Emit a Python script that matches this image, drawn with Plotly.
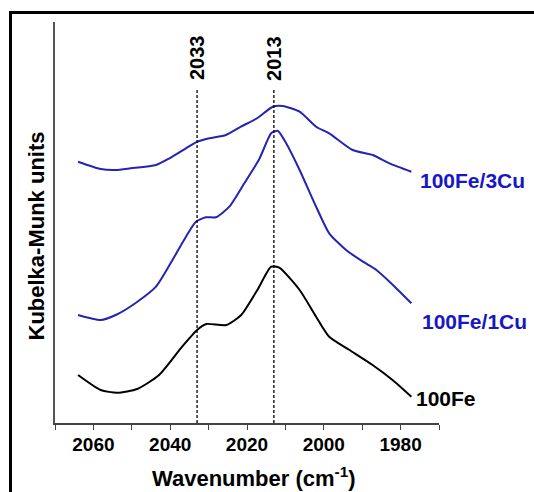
import plotly.graph_objects as go

# ---- data ----
wn_fe = [2064.0, 2058.1, 2053.8, 2048.6, 2042.9, 2036.9, 2033.0, 2030.6, 2025.4, 2021.5,
         2017.3, 2013.7, 2011.6, 2006.3, 2002.0, 1998.6, 1993.3, 1987.3, 1982.1, 1977.2]
km_fe = [48, 33, 30.3, 34, 48, 76.3, 93, 99, 98, 108,
         133, 156.3, 155.3, 133, 106.3, 86.3, 73, 58, 43, 26.3]

wn_1cu = [2064.0, 2058.1, 2054.2, 2048.9, 2043.7, 2039.4, 2035.9, 2033.3, 2030.7, 2028.1,
          2024.6, 2020.7, 2016.8, 2013.7, 2012.0, 2009.8, 2006.3, 2002.0, 1998.6, 1994.2,
          1989.8, 1986.3, 1982.0, 1977.2]
km_1cu = [108, 103, 108, 120.3, 136.3, 163, 186.3, 201.3, 205.7, 205.7,
          216.3, 239.7, 264, 289.7, 292.3, 279.7, 253, 216.3, 189.7, 173,
          161.3, 153, 138, 119.7]

wn_3cu = [2064.0, 2058.1, 2054.2, 2050.3, 2043.7, 2040.2, 2035.9, 2032.9, 2029.8, 2025.5,
          2021.6, 2017.3, 2013.3, 2010.7, 2006.3, 2002.0, 1998.6, 1992.5, 1987.3, 1982.9,
          1977.2]
km_3cu = [261.3, 254, 253, 254.7, 258, 264.7, 274.7, 281.3, 284.7, 288,
          296.3, 305, 316.3, 317, 311.3, 296.3, 289.7, 273, 268, 259.7,
          251.3]

series_names = ["100Fe", "100Fe/1Cu", "100Fe/3Cu"]
marker_lines = [2033, 2013]
tick_vals = [2060, 2040, 2020, 2000, 1980]
tick_text = ["2060", "2040", "2020", "2000", "1980"]
minor_tick_vals = [2070, 2050, 2030, 2010, 1990, 1970]

BLUE_LINE = "#2424b0"
BLUE_TEXT = "#1717c4"
FONT = "Liberation Sans, Arial, sans-serif"

# plot area in pixels
W, H = 534, 492
L, R, T, B = 55, 439, 22, 423


def px_x(px):
    return (px - L) / (R - L)


def px_y(py):
    return (B - py) / (B - T)


fig = go.Figure()
fig.add_trace(go.Scatter(x=wn_fe, y=km_fe, mode="lines", name=series_names[0],
                         line=dict(color="black", width=2, shape="spline", smoothing=0.6)))
fig.add_trace(go.Scatter(x=wn_1cu, y=km_1cu, mode="lines", name=series_names[1],
                         line=dict(color=BLUE_LINE, width=2, shape="spline", smoothing=0.6)))
fig.add_trace(go.Scatter(x=wn_3cu, y=km_3cu, mode="lines", name=series_names[2],
                         line=dict(color=BLUE_LINE, width=2, shape="spline", smoothing=0.6)))

shapes = []
annotations = []
for v in marker_lines:
    shapes.append(dict(type="line", xref="x", yref="y", x0=v, x1=v, y0=0, y1=335,
                       line=dict(color="black", width=1.3, dash="3px,2px")))
    annotations.append(dict(x=v, y=365, xref="x", yref="y", text=f"<b>{v}</b>",
                            textangle=-90, showarrow=False,
                            font=dict(family=FONT, size=20, color="black")))

# series labels
labels = [("100Fe/3Cu", 418, 181, BLUE_TEXT),
          ("100Fe/1Cu", 420, 321, BLUE_TEXT),
          ("100Fe", 414, 398, "black")]
for txt, lx, ly, col in labels:
    annotations.append(dict(x=px_x(lx), y=px_y(ly), xref="paper", yref="paper",
                            text=f"<b>{txt}</b>", showarrow=False, xanchor="left",
                            yanchor="middle",
                            font=dict(family=FONT, size=21, color=col)))

# axis titles
annotations.append(dict(x=px_x(254), y=px_y(477), xref="paper", yref="paper",
                        text="<b>Wavenumber (cm<sup>-1</sup>)</b>", showarrow=False,
                        xanchor="center", yanchor="middle",
                        font=dict(family=FONT, size=22, color="black")))
annotations.append(dict(x=px_x(35.5), y=px_y(236), xref="paper", yref="paper",
                        text="<b>Kubelka-Munk units</b>", showarrow=False, textangle=-90,
                        xanchor="center", yanchor="middle",
                        font=dict(family=FONT, size=22, color="black")))

# outer frame (top and left edges visible, rest off-canvas)
shapes.append(dict(type="rect", xref="paper", yref="paper",
                   x0=px_x(10.5), x1=px_x(545), y0=px_y(505), y1=px_y(12.5),
                   line=dict(color="black", width=3), fillcolor="rgba(0,0,0,0)"))

fig.update_layout(
    width=W, height=H,
    margin=dict(l=L, r=W - R, t=T, b=H - B),
    paper_bgcolor="white", plot_bgcolor="white",
    showlegend=False,
    shapes=shapes, annotations=annotations,
    font=dict(family=FONT, color="black"),
)
fig.update_xaxes(range=[2070, 1970], tickvals=tick_vals, ticktext=tick_text,
                 ticks="outside", ticklen=5, tickwidth=1.2, tickcolor="#444",
                 ticklabelstandoff=-2,
                 minor=dict(tickvals=minor_tick_vals, ticks="outside", ticklen=5,
                            tickwidth=1.2, tickcolor="#444", showgrid=False),
                 showline=True, linecolor="#444", linewidth=1.5, showgrid=False,
                 zeroline=False,
                 tickfont=dict(family=FONT, size=19, color="black", weight="bold"))
fig.update_yaxes(range=[0, 401], showticklabels=False, ticks="",
                 showline=True, linecolor="#555", linewidth=1.5, showgrid=False,
                 zeroline=False)

fig.write_html("out.html")
